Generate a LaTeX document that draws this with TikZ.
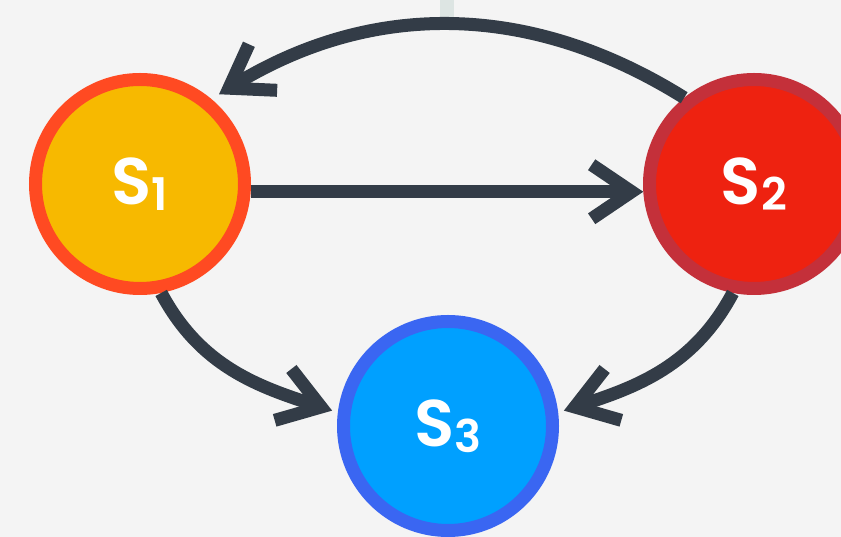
\documentclass[tikz,border=0pt]{standalone}
\usepackage{fontspec}
\newfontfamily\popfont{Poppins}[UprightFont={* SemiBold}]
\usetikzlibrary{arrows.meta}
\definecolor{bgc}{HTML}{F4F4F4}
\definecolor{tealc}{HTML}{DDE5E3}
\definecolor{arrowc}{HTML}{333C47}
\definecolor{sonef}{HTML}{F7B900}
\definecolor{soneb}{HTML}{FF4A22}
\definecolor{stwof}{HTML}{EE2210}
\definecolor{stwob}{HTML}{C4303A}
\definecolor{sthreef}{HTML}{00A0FF}
\definecolor{sthreeb}{HTML}{3A66F2}
\newcommand\subdig[1]{\raisebox{-6pt}{\fontsize{45}{45}\selectfont #1}}
\begin{document}
\begin{tikzpicture}[x=1pt,y=1pt,
  state/.style={circle, minimum size=209pt, inner sep=0pt, line width=13pt,
    text=white, font=\popfont\fontsize{66}{66}\selectfont},
  link/.style={draw=arrowc, line width=13pt,
    -{Straight Barb[length=40pt,width=54pt]}}]
\useasboundingbox (0,0) rectangle (841,537);
\clip (0,0) rectangle (841,537);
\fill[bgc] (0,0) rectangle (841,537);
\fill[tealc] (440,520) rectangle (454,537);
\node[state, draw=soneb, fill=sonef] (s1) at (140,353) {S\subdig{1}};
\node[state, draw=stwob, fill=stwof] (s2) at (754,353) {S\subdig{2}};
\node[state, draw=sthreeb, fill=sthreef] (s3) at (448,111) {S\subdig{3}};
\draw[link] (s1.-4.6) -- (s2.184.6);
\draw[link, shorten >=9pt] (s2.129) to[out=148, in=31.5] (s1.50);
\draw[link, shorten >=6pt] (s1.-79) to[out=-62, in=162] (s3.173);
\draw[link, shorten >=6pt] (s2.-101) to[out=-118, in=18] (s3.7);
\end{tikzpicture}
\end{document}
